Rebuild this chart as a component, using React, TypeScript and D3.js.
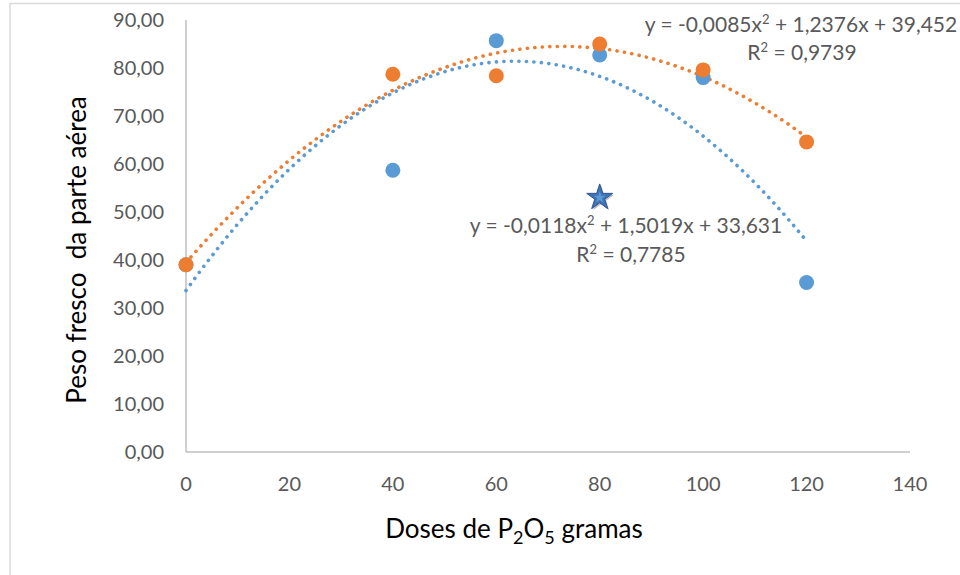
import React from 'react';
import * as d3 from 'd3';

// Doses de P2O5 (g) e peso fresco da parte aérea
const doses = [0, 40, 60, 80, 100, 120];
const serieAzul = [39.0, 58.7, 85.7, 82.7, 78.0, 35.3];
const serieLaranja = [39.0, 78.7, 78.4, 85.0, 79.6, 64.6];
const estrela = [{ x: 80, y: 53.0 }];

// coeficientes das linhas de tendência (polinomial, ordem 2)
const coefAzul = [-0.0118, 1.5019, 33.631];
const coefLaranja = [-0.0085, 1.2376, 39.452];

const xTicks = [0, 20, 40, 60, 80, 100, 120, 140];
const yTicks = [0, 10, 20, 30, 40, 50, 60, 70, 80, 90];

const AZUL = '#5B9BD5';
const LARANJA = '#ED7D31';
const FONT = "Lato, 'Open Sans', sans-serif";

const fmt = (v: number) => v.toFixed(2).replace('.', ',');

const App = () => {
  const width = 960;
  const height = 575;
  const x = d3.scaleLinear().domain([0, 140]).range([186, 910]);
  const y = d3.scaleLinear().domain([0, 90]).range([452, 20]);

  const trend = (c: number[]) => {
    const xs = d3.range(0, 120.5, 1);
    const line = d3
      .line<number>()
      .x((d) => x(d))
      .y((d) => y(c[0] * d * d + c[1] * d + c[2]));
    return line(xs) || '';
  };

  const star = d3.symbol().type(d3.symbolStar).size(210)() || '';

  return (
    <svg
      width={width}
      height={height}
      style={{ position: 'absolute', left: 0, top: 0, background: '#fff' }}
      fontFamily={FONT}
    >
      {/* moldura */}
      <rect x={10} y={3.5} width={980} height={600} fill="#fff" stroke="#d9d9d9" strokeWidth={1.5} />

      {/* eixos */}
      <line x1={x(0)} x2={x(0)} y1={y(90)} y2={y(0)} stroke="#bfbfbf" strokeWidth={1.5} />
      <line x1={x(0)} x2={x(140)} y1={y(0)} y2={y(0)} stroke="#bfbfbf" strokeWidth={1.5} />

      {yTicks.map((t) => (
        <text key={'y' + t} x={164} y={y(t)} dy="0.35em" textAnchor="end" fontSize={20} fill="#595959">
          {fmt(t)}
        </text>
      ))}
      {xTicks.map((t) => (
        <text key={'x' + t} x={x(t)} y={491} textAnchor="middle" fontSize={20} fill="#595959">
          {t}
        </text>
      ))}

      {/* linhas de tendência */}
      <path d={trend(coefAzul)} fill="none" stroke={AZUL} strokeWidth={3.6} strokeLinecap="round" strokeDasharray="0.1 7.4" />
      <path d={trend(coefLaranja)} fill="none" stroke={LARANJA} strokeWidth={3.6} strokeLinecap="round" strokeDasharray="0.1 7.4" />

      {/* pontos */}
      {doses.map((d, i) => (
        <circle key={'a' + i} cx={x(d)} cy={y(serieAzul[i])} r={7.5} fill={AZUL} />
      ))}
      {doses.map((d, i) => (
        <circle key={'l' + i} cx={x(d)} cy={y(serieLaranja[i])} r={7.5} fill={LARANJA} />
      ))}
      {estrela.map((p, i) => (
        <g key={'s' + i} transform={`translate(${x(p.x)},${y(p.y)})`}>
          <path d={star} transform="translate(1.5,1.5)" fill="#a6a6a6" opacity={0.7} />
          <path d={star} fill="#3f74b5" stroke="#2f5597" strokeWidth={1} />
          <path d={star} transform="scale(0.45)" fill="#5B9BD5" />
        </g>
      ))}

      {/* equações */}
      <g fill="#595959" fontSize={21} textAnchor="middle">
        <text x={801} y={32}>
          y = -0,0085x<tspan fontSize={13} dy={-8}>2</tspan>
          <tspan dy={8}> + 1,2376x + 39,452</tspan>
        </text>
        <text x={802} y={60}>
          R<tspan fontSize={13} dy={-8}>2</tspan>
          <tspan dy={8}> = 0,9739</tspan>
        </text>
        <text x={626} y={233}>
          y = -0,0118x<tspan fontSize={13} dy={-8}>2</tspan>
          <tspan dy={8}> + 1,5019x + 33,631</tspan>
        </text>
        <text x={631} y={262}>
          R<tspan fontSize={13} dy={-8}>2</tspan>
          <tspan dy={8}> = 0,7785</tspan>
        </text>
      </g>

      {/* títulos dos eixos */}
      <text x={514} y={538} textAnchor="middle" fontSize={26} fill="#000">
        Doses de P<tspan fontSize={18} dy={6}>2</tspan>
        <tspan dy={-6}>O</tspan>
        <tspan fontSize={18} dy={6}>5</tspan>
        <tspan dy={-6}> gramas</tspan>
      </text>
      <text
        transform="translate(86,250) rotate(-90)"
        textAnchor="middle"
        fontSize={26}
        fill="#000"
        style={{ whiteSpace: 'pre' }}
      >
        {'Peso fresco  da parte aérea'}
      </text>
    </svg>
  );
};

export default App;
